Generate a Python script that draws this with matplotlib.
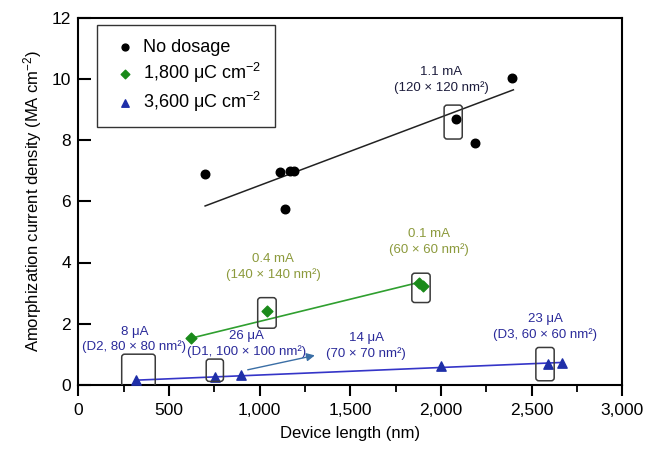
import matplotlib
matplotlib.use("Agg")
import matplotlib.pyplot as plt
from matplotlib.patches import FancyBboxPatch
from matplotlib.ticker import FuncFormatter, MultipleLocator
import numpy as np

plt.rcParams['font.family'] = ['Liberation Sans', 'DejaVu Sans']
plt.rcParams['mathtext.fontset'] = 'custom'
plt.rcParams['mathtext.rm'] = 'Liberation Sans'
plt.rcParams['mathtext.it'] = 'Liberation Sans:italic'
plt.rcParams['mathtext.bf'] = 'Liberation Sans:bold'

# ---- data ----
nodose_x = [700, 1115, 1140, 1170, 1190, 2085, 2190, 2390]
nodose_y = [6.9, 6.95, 5.75, 7.0, 7.0, 8.7, 7.9, 10.05]
nodose_fit_x = [700, 2400]
nodose_fit_y = [5.85, 9.65]

d1800_x = [620, 1040, 1878, 1902]
d1800_y = [1.52, 2.42, 3.33, 3.22]
d1800_fit_x = [620, 1880]
d1800_fit_y = [1.52, 3.35]

d3600_x = [320, 755, 900, 2000, 2592, 2670]
d3600_y = [0.17, 0.25, 0.33, 0.62, 0.68, 0.72]
d3600_fit_x = [320, 2670]
d3600_fit_y = [0.15, 0.73]

# highlighted boxes: (x0, x1, y0, y1)
boxes = [
    (2018, 2118, 8.04, 9.15, '#3a3a3a'),
    (990, 1092, 1.85, 2.85, '#3a3a3a'),
    (1840, 1941, 2.69, 3.65, '#3a3a3a'),
    (240, 425, -0.05, 1.0, '#3a3a3a'),
    (706, 801, 0.11, 0.84, '#3a3a3a'),
    (2524, 2625, 0.13, 1.22, '#3a3a3a'),
]

labels = [
    (2002, 9.97, '1.1 mA\n(120 × 120 nm²)', '#1c1c3c'),
    (1075, 3.86, '0.4 mA\n(140 × 140 nm²)', '#8c9a3c'),
    (1936, 4.67, '0.1 mA\n(60 × 60 nm²)', '#8c9a3c'),
    (310, 1.48, '8 μA\n(D2, 80 × 80 nm²)', '#2a2a9a'),
    (926, 1.34, '26 μA\n(D1, 100 × 100 nm²)', '#2a2a9a'),
    (1588, 1.27, '14 μA\n(70 × 70 nm²)', '#2a2a9a'),
    (2575, 1.88, '23 μA\n(D3, 60 × 60 nm²)', '#2a2a9a'),
]

arrow_from = (920, 0.47)
arrow_to = (1320, 0.98)

xticks = [0, 500, 1000, 1500, 2000, 2500, 3000]
yticks = [0, 2, 4, 6, 8, 10, 12]

fig = plt.figure(figsize=(6.57, 4.5), dpi=100)
ax = fig.add_axes([0.119, 0.145, 0.828, 0.815])
ax.set_xlim(0, 3000)
ax.set_ylim(0, 12)

ax.plot(nodose_fit_x, nodose_fit_y, color='#222222', lw=1.1, zorder=2)
ax.plot(d1800_fit_x, d1800_fit_y, color='#2f9f2f', lw=1.2, zorder=2)
ax.plot(d3600_fit_x, d3600_fit_y, color='#3535c8', lw=1.2, zorder=2)

ax.scatter(nodose_x, nodose_y, s=38, marker='o', color='black', zorder=3, label='No dosage')
ax.scatter(d1800_x, d1800_y, s=30, marker='D', color='#1a8a1a', zorder=3,
           label='1,800 μC cm$^{-2}$')
ax.scatter(d3600_x, d3600_y, s=45, marker='^', color='#1f2fa8', zorder=3,
           label='3,600 μC cm$^{-2}$')

xpp = 3000 / 544.0
ypp = 12 / 367.0
for x0, x1, y0, y1, c in boxes:
    p = FancyBboxPatch((x0, y0), x1 - x0, y1 - y0,
                       boxstyle="round,pad=0,rounding_size=%f" % (3 * xpp),
                       mutation_aspect=ypp / xpp, fill=False, ec=c, lw=1.1, zorder=4)
    ax.add_patch(p)

for x, y, t, c in labels:
    ax.text(x, y, t, color=c, fontsize=9.5, ha='center', va='center', linespacing=1.3)

ax.annotate('', xy=arrow_to, xytext=arrow_from,
            arrowprops=dict(arrowstyle='-|>', color='#3a6ea5', lw=1.0, mutation_scale=12))

ax.set_xticks(xticks)
ax.set_yticks(yticks)
ax.xaxis.set_minor_locator(MultipleLocator(250))
ax.xaxis.set_major_formatter(FuncFormatter(lambda v, p: f"{int(v):,}"))
ax.tick_params(axis='x', which='major', direction='out', length=8, width=1.5, labelsize=12.5, pad=5)
ax.tick_params(axis='x', which='minor', direction='out', length=5, width=1.3)
ax.tick_params(axis='y', which='major', direction='in', length=9, width=1.5, labelsize=12.5, pad=5)
for s in ax.spines.values():
    s.set_linewidth(1.5)

ax.set_xlabel('Device length (nm)', fontsize=12, labelpad=6)
ax.set_ylabel('Amorphization current density (MA cm$^{-2}$)', fontsize=12, labelpad=6)

leg = ax.legend(loc='upper left', bbox_to_anchor=(0.035, 0.981), fontsize=13,
                frameon=True, fancybox=False, edgecolor='black', handletextpad=0.2,
                handlelength=1.6, borderpad=0.75, labelspacing=0.28, markerscale=0.8,
                scatterpoints=1, borderaxespad=0)
leg.get_frame().set_linewidth(1.0)

fig.savefig('out.png', dpi=100)
